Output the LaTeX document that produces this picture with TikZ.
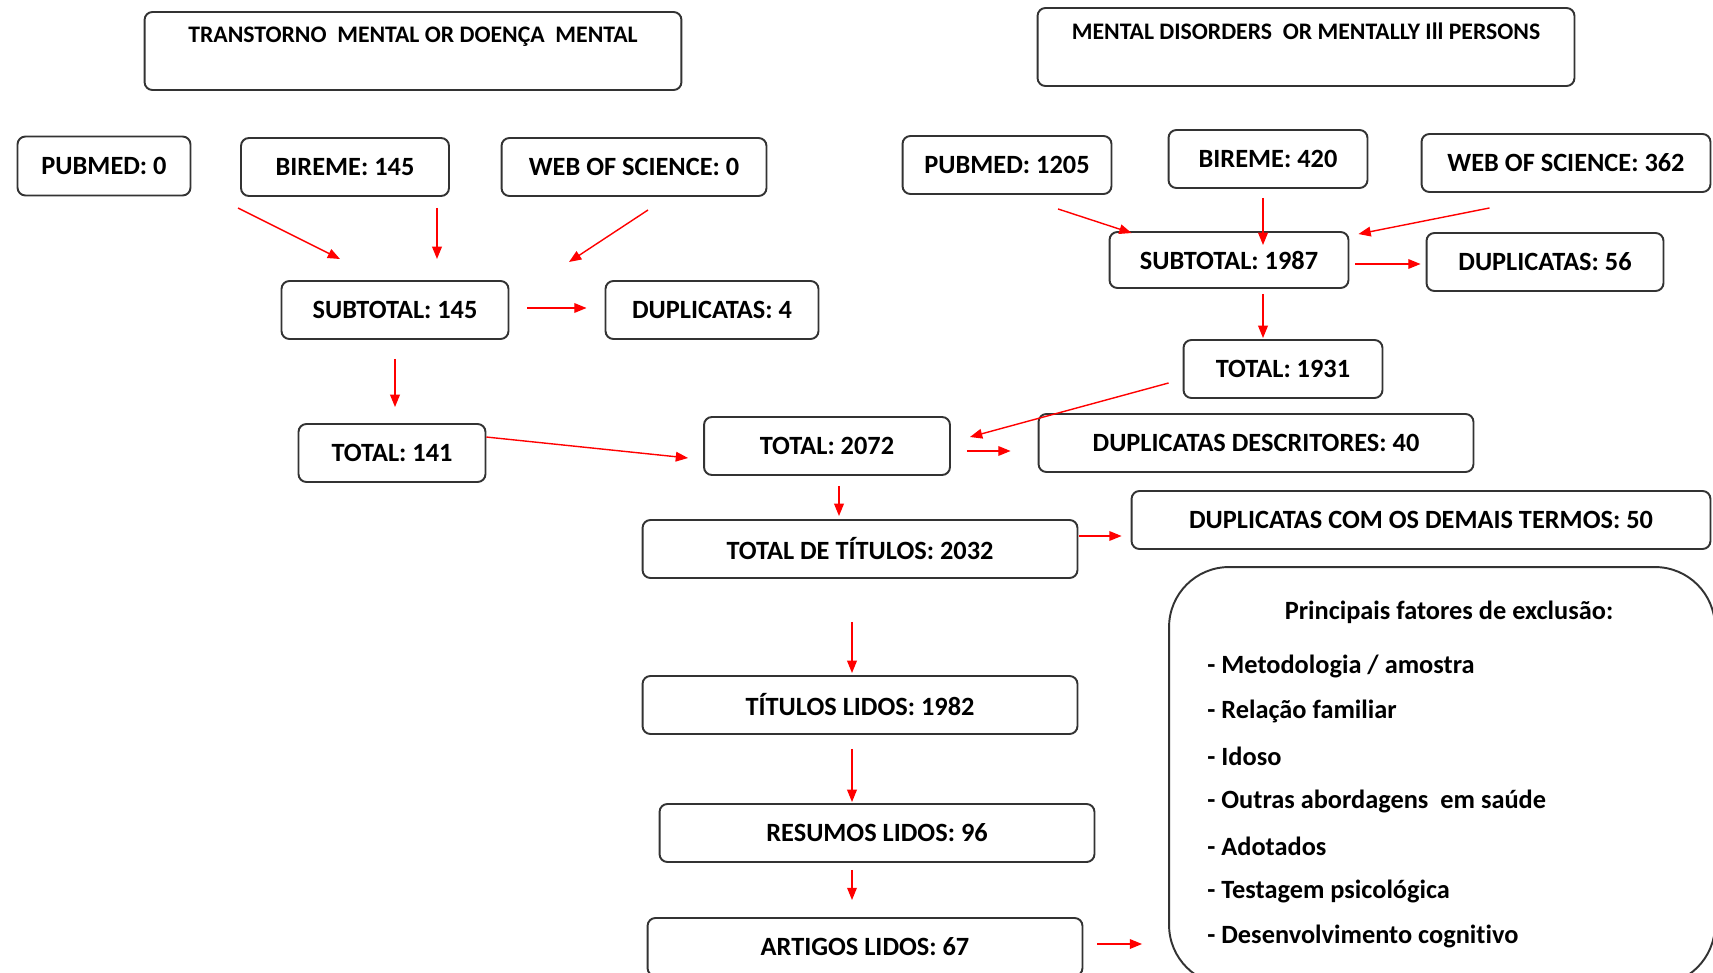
\documentclass[tikz,border=0pt]{standalone}
\usepackage{fontspec}
\setmainfont[Ligatures={NoCommon}]{Carlito}
\usetikzlibrary{arrows.meta,calc}

\tikzset{
  caixa/.style={draw=black!80, line width=1.1pt, rounded corners=4.5pt,
    minimum height=1.16cm, inner sep=0pt, font=\bfseries\fontsize{15}{17}\selectfont},
  titulo/.style={anchor=north, yshift=-0.2cm, font=\bfseries\fontsize{13.5}{15}\selectfont},
  item/.style={inner sep=0pt, font=\bfseries\fontsize{15}{17}\selectfont},
  seta/.style={red, line width=0.8pt, -{Triangle[length=7pt,width=5.5pt]}},
}

\begin{document}
\begin{tikzpicture}[x=0.02cm,y=-0.02cm]
  \clip (0,0) rectangle (1713,973);
  % descritores em portugues
  \node[caixa, minimum width=10.74cm, minimum height=1.56cm,
    label={[titulo]north:TRANSTORNO~ MENTAL OR DOENÇA~ MENTAL}] (t1) at (413,51) {};
  \node[caixa, minimum width=3.46cm, minimum height=1.18cm] (pub1) at (104,166) {PUBMED: 0};
  \node[caixa, minimum width=4.16cm] (bir1) at (345,167) {BIREME: 145};
  \node[caixa, minimum width=5.30cm] (wos1) at (634,167) {WEB OF SCIENCE: 0};
  \node[caixa, minimum width=4.54cm] (sub1) at (395,310) {SUBTOTAL: 145};
  \node[caixa, minimum width=4.26cm] (dup1) at (712,310) {DUPLICATAS: 4};
  \node[caixa, minimum width=3.74cm] (tot1) at (392,453) {TOTAL: 141};

  % descritores em ingles
  \node[caixa, minimum width=10.74cm, minimum height=1.56cm,
    label={[titulo]north:MENTAL DISORDERS~ OR MENTALLY Ill PERSONS}] (t2) at (1306,47) {};
  \node[caixa, minimum width=4.18cm] (pub2) at (1007,165) {PUBMED: 1205};
  \node[caixa, minimum width=3.98cm] (bir2) at (1268,159) {BIREME: 420};
  \node[caixa, minimum width=5.78cm] (wos2) at (1566,163) {WEB OF SCIENCE: 362};
  \node[caixa, minimum width=4.78cm, minimum height=1.12cm] (sub2) at (1229,260) {SUBTOTAL: 1987};
  \node[caixa, minimum width=4.74cm] (dup2) at (1545,262) {DUPLICATAS: 56};
  \node[caixa, minimum width=3.98cm] (tot2) at (1283,369) {TOTAL: 1931};

  % fluxo comum
  \node[caixa, minimum width=4.92cm] (totg) at (827,446) {TOTAL: 2072};
  \node[caixa, minimum width=8.70cm] (dupdesc) at (1256,443) {DUPLICATAS DESCRITORES: 40};
  \node[caixa, minimum width=8.70cm] (titulos) at (860,549) {TOTAL DE TÍTULOS: 2032};
  \node[caixa, minimum width=11.58cm] (dupdem) at (1421,520) {DUPLICATAS COM OS DEMAIS TERMOS: 50};
  \node[caixa, minimum width=8.70cm] (lidos) at (860,705) {TÍTULOS LIDOS: 1982};
  \node[caixa, minimum width=8.70cm] (resumos) at (877,833) {RESUMOS LIDOS: 96};
  \node[caixa, minimum width=8.70cm] (artigos) at (865,947) {ARTIGOS LIDOS: 67};

  % fatores de exclusao
  \node[caixa, minimum width=10.92cm, minimum height=8.36cm, rounded corners=1.2cm] (excl) at (1442,776) {};
  \node[item] (princ) at (1449,612) {Principais fatores de exclusão:};
  \foreach \txt [count=\i] in {Metodologia / amostra, Relação familiar, Idoso,
      Outras abordagens~ em saúde, Adotados, Testagem psicológica, Desenvolvimento cognitivo}
    \node[item, anchor=west] (f\i) at (1207,621+45*\i) {- \txt};

  % setas
  \draw[seta] ($(bir1)+(-107,41)$) -- ($(sub1)+(-55,-51)$);
  \draw[seta] ($(bir1)+(92,41)$) -- ($(sub1)+(42,-51)$);
  \draw[seta] ($(wos1)+(14,43)$) -- ($(sub1)+(174,-48)$);
  \draw[seta] ($(sub1.east)+(18,-2)$) -- ($(dup1.west)+(-18,-2)$);
  \draw[seta] ($(sub1.south)+(0,19)$) -- ($(tot1.north)+(3,-16)$);
  \draw[seta] ($(tot1.north east)+(0,14)$) -- ($(totg.west)+(-15,12)$);

  \draw[seta] ($(pub2.south)+(51,14)$) -- ($(sub2.north west)+(23,2)$);
  \draw[seta] ($(bir2.south)+(-5,9)$) -- ($(sub2.north)+(34,14)$);
  \draw[seta] ($(wos2.south west)+(69,15)$) -- ($(sub2.north east)+(9,3)$);
  \draw[seta] ($(sub2.east)+(6,4)$) -- ($(dup2.west)+(-5,2)$);
  \draw[seta] ($(sub2.south)+(34,5)$) -- ($(tot2.north)+(-20,-1)$);
  \draw[seta] ($(tot2.west)+(-14,14)$) -- ($(totg.east)+(19,-9)$);
  \draw[seta] ($(totg.east)+(16,5)$) -- ($(dupdesc.west)+(-27,8)$);
  \draw[seta] ($(totg.south)+(12,10)$) -- ($(titulos.north)+(-21,-3)$);
  \draw[seta] ($(titulos.east)+(1,-13)$) -- ($(dupdem.west)+(-9,16)$);
  \draw[seta] ($(titulos.south)+(-8,43)$) -- ($(lidos.north)+(-8,-2)$);
  \draw[seta] ($(lidos.south)+(-8,14)$) -- ($(resumos.north)+(-25,-1)$);
  \draw[seta] ($(resumos.south)+(-25,7)$) -- ($(artigos.north)+(-13,-17)$);
  \draw[seta] ($(artigos.east)+(14,-3)$) -- ($(excl.west)+(-26,168)$);
\end{tikzpicture}
\end{document}
